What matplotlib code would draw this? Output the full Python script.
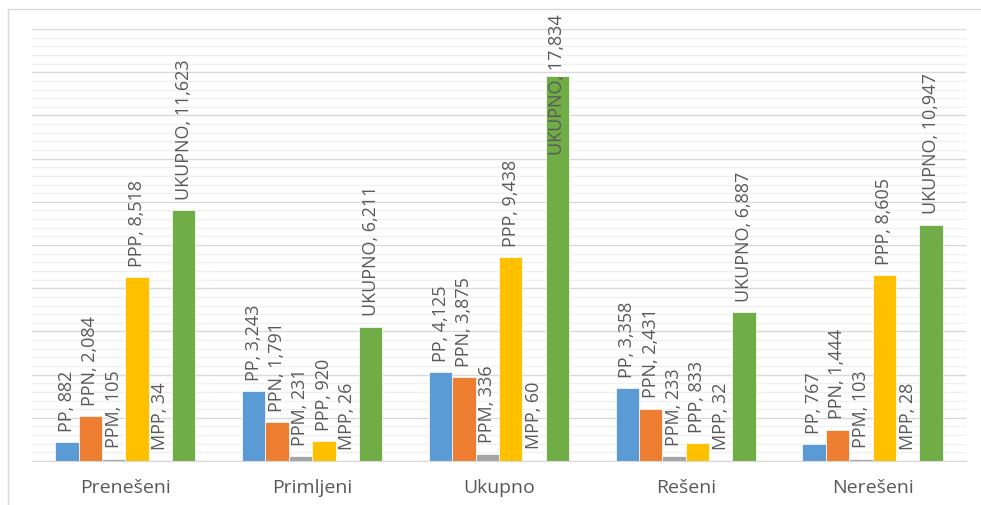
import matplotlib
matplotlib.use("Agg")
import matplotlib.pyplot as plt
from matplotlib.patches import Rectangle
from matplotlib.ticker import MultipleLocator
import numpy as np

plt.rcParams["font.family"] = ["Open Sans", "DejaVu Sans"]

# ----- data -----
categories = ["Prenešeni", "Primljeni", "Ukupno", "Rešeni", "Nerešeni"]
series_names = ["PP", "PPN", "PPM", "PPP", "MPP", "UKUPNO"]
pp = [882, 3243, 4125, 3358, 767]
ppn = [2084, 1791, 3875, 2431, 1444]
ppm = [105, 231, 336, 233, 103]
ppp = [8518, 920, 9438, 833, 8605]
mpp = [34, 26, 60, 32, 28]
ukupno = [11623, 6211, 17834, 6887, 10947]
series_values = [pp, ppn, ppm, ppp, mpp, ukupno]

colors = ["#5B9BD5", "#ED7D31", "#A5A5A5", "#FFC000", "#B4C7E7", "#70AD47"]
TEXT = "#595959"

fig = plt.figure(figsize=(9.81, 5.05), dpi=100)
ax = fig.add_axes([0.0326, 0.0871, 0.952, 0.8554])

# light frame (cropped at right / bottom)
fig.patches.append(Rectangle((8 / 981, -0.1), 1.2, 1.1 - 9 / 505, transform=fig.transFigure,
                             facecolor="none", edgecolor="#D9D9D9", linewidth=1.0, zorder=0))

ax.set_xlim(-0.5, len(categories) - 0.5)
ax.set_ylim(0, 20000)
ax.yaxis.set_major_locator(MultipleLocator(2000))
ax.yaxis.set_minor_locator(MultipleLocator(400))
ax.grid(which="major", axis="y", color="#D9D9D9", linewidth=1.0, zorder=0)
ax.grid(which="minor", axis="y", color="#F0F0F0", linewidth=1.0, zorder=0)
ax.set_axisbelow(True)
for s in ["top", "right", "left"]:
    ax.spines[s].set_visible(False)
ax.spines["bottom"].set_color("#D9D9D9")
ax.tick_params(axis="y", which="both", length=0, labelleft=False)
ax.tick_params(axis="x", length=0, pad=13, labelsize=14, labelcolor=TEXT)

x = np.arange(len(categories))
bw = 0.125
label_cap = 13700  # labels that would leave the chart are pulled down into the bar
for k, (name, vals, c) in enumerate(zip(series_names, series_values, colors)):
    xs = x + (k - 2.5) * bw
    ax.bar(xs, vals, width=bw, color=c, edgecolor="white", linewidth=0.5, zorder=2)
    for xi, v in zip(xs, vals):
        ax.annotate(f"{name}, {v:,}", (xi, min(v, label_cap)), xytext=(0, 7.5),
                    textcoords="offset points", rotation=90, ha="center", va="bottom",
                    fontsize=13, color=TEXT, annotation_clip=False, zorder=3)

ax.set_xticks(x)
ax.set_xticklabels(categories)

fig.savefig("out.png", dpi=100)
